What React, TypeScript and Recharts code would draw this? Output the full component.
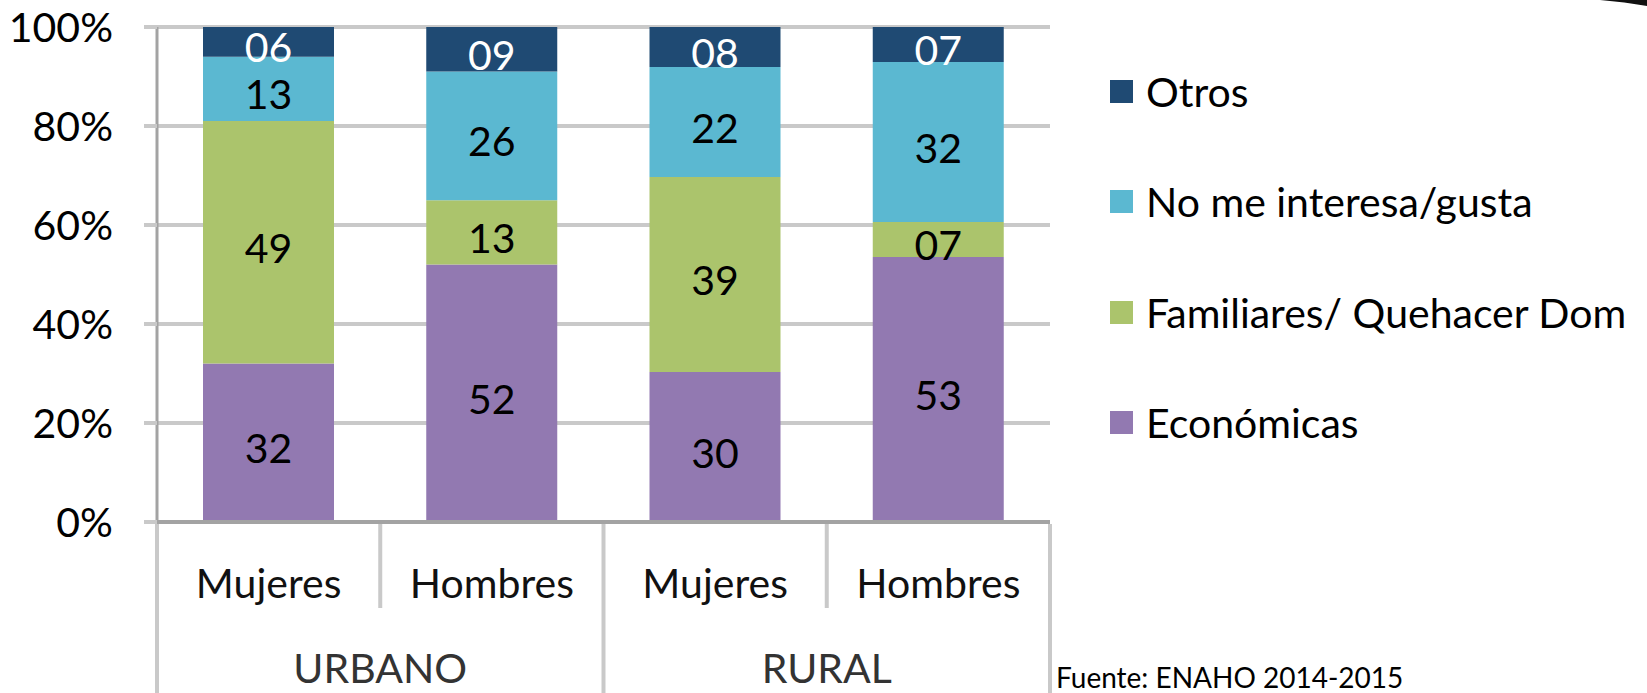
import React from 'react'
import { BarChart, Bar, XAxis, YAxis, CartesianGrid, LabelList } from 'recharts'

// categorías (nivel 1 y nivel 2 del eje X)
const categories = ['Mujeres', 'Hombres', 'Mujeres', 'Hombres']
const groups = ['URBANO', 'URBANO', 'RURAL', 'RURAL']

// valores por serie (%)
const economicas = [32, 52, 30, 53]
const familiares = [49, 13, 39, 7]
const noMeInteresa = [13, 26, 22, 32]
const otros = [6, 9, 8, 7]

const yTicks = [0, 0.2, 0.4, 0.6, 0.8, 1]

const seriesKeys = ['economicas', 'familiares', 'noMeInteresa', 'otros']
const seriesNames = ['Económicas', 'Familiares/ Quehacer Dom', 'No me interesa/gusta', 'Otros']
const seriesColors = ['#9279B1', '#ABC46C', '#5BB8D1', '#1F4A73']
const labelColors = ['#000', '#000', '#000', '#fff']

const source = 'Fuente: ENAHO 2014-2015'

const data = categories.map((c, i) => ({
  key: `${groups[i]}-${c}`,
  sex: c,
  group: groups[i],
  economicas: economicas[i],
  familiares: familiares[i],
  noMeInteresa: noMeInteresa[i],
  otros: otros[i],
}))

const W = 1647
const H = 693
const PLOT_LEFT = 157
const PLOT_RIGHT = 1050
const PLOT_TOP = 27
const PLOT_BOTTOM = 522
const PLOT_W = PLOT_RIGHT - PLOT_LEFT
const FONT = 'Lato, "Open Sans", sans-serif'
const SEP = '#C9C9C9'

const pad = (v: any) => String(v).padStart(2, '0')
const pct = (v: number) => `${Math.round(v * 100)}%`

function XTick(props: any) {
  const { x, y, index } = props
  const band = PLOT_W / categories.length
  const left = x - band / 2
  const groupStart = index === 0 || groups[index] !== groups[index - 1]
  const isLast = index === categories.length - 1
  const bottom = H - y
  const n = groups.filter(g => g === groups[index]).length
  return (
    <g>
      <line x1={left} x2={left} y1={y + 2} y2={groupStart ? y + bottom : y + 86} stroke={SEP} strokeWidth={4} />
      {isLast && <line x1={left + band} x2={left + band} y1={y + 2} y2={y + bottom} stroke={SEP} strokeWidth={4} />}
      <text x={x} y={y + 76} textAnchor="middle" fontSize={41} fontFamily={FONT} fill="#111">
        {categories[index]}
      </text>
      {groupStart && (
        <text x={left + (n * band) / 2} y={y + 161} textAnchor="middle" fontSize={41} fontFamily={FONT} fill="#333">
          {groups[index]}
        </text>
      )}
    </g>
  )
}

function LegendBox() {
  const order = [3, 2, 1, 0]
  return (
    <div style={{ position: 'absolute', left: 1110, top: 36, fontFamily: FONT }}>
      {order.map(i => (
        <div key={seriesKeys[i]} style={{ height: 110.5, display: 'flex', alignItems: 'center', whiteSpace: 'nowrap' }}>
          <span style={{ width: 23, height: 23, background: seriesColors[i], display: 'inline-block', marginRight: 13 }} />
          <span style={{ fontSize: 41, color: '#000' }}>{seriesNames[i]}</span>
        </div>
      ))}
    </div>
  )
}

export default function App() {
  return (
    <div style={{ position: 'absolute', left: 0, top: 0, width: W, height: H, background: '#fff', overflow: 'hidden' }}>
      <BarChart
        width={W}
        height={H}
        data={data}
        stackOffset="expand"
        margin={{ top: PLOT_TOP, right: W - PLOT_RIGHT, bottom: 0, left: 0 }}
      >
        <CartesianGrid vertical={false} stroke={SEP} strokeWidth={4} />
        <XAxis
          dataKey="key"
          height={H - PLOT_BOTTOM}
          interval={0}
          tickLine={false}
          tickSize={0}
          tickMargin={0}
          axisLine={{ stroke: '#A3A3A3', strokeWidth: 4 }}
          tick={<XTick />}
        />
        <YAxis
          width={PLOT_LEFT}
          domain={[0, 1]}
          ticks={yTicks}
          tickFormatter={pct}
          tickSize={13}
          tickMargin={31}
          tickLine={{ stroke: SEP, strokeWidth: 4 }}
          axisLine={{ stroke: '#A3A3A3', strokeWidth: 3 }}
          tick={{ fontSize: 41, fontFamily: FONT, fill: '#000' }}
        />
        {seriesKeys.map((k, i) => (
          <Bar key={k} dataKey={k} name={seriesNames[i]} stackId="a" fill={seriesColors[i]} barSize={131} isAnimationActive={false}>
            <LabelList dataKey={k} position="center" formatter={pad} fill={labelColors[i]} fontSize={41} fontFamily={FONT} dy={6} />
          </Bar>
        ))}
      </BarChart>
      <LegendBox />
      <svg width={W} height={H} style={{ position: 'absolute', left: 0, top: 0, pointerEvents: 'none' }}>
        <path d="M1600 0 L1647 0 L1647 6 Q1625 2 1600 0 Z" fill="#111" />
        <text x={1056} y={688} fontSize={28} fontFamily={FONT} fill="#000">{source}</text>
      </svg>
    </div>
  )
}
